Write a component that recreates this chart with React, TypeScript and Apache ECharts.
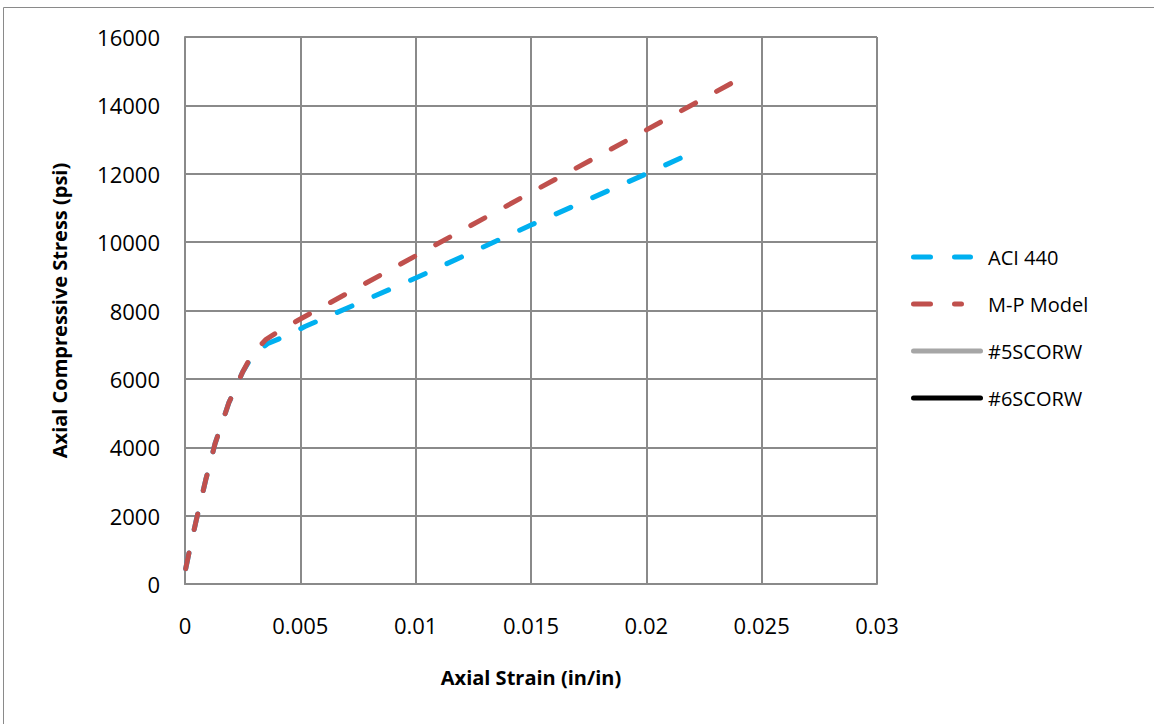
import React, { useEffect, useRef } from "react";
import * as echarts from "echarts";

const xTicks = { min: 0, max: 0.03, interval: 0.005 };
const yTicks = { min: 0, max: 16000, interval: 2000 };

const aciStrain = [0.00003, 0.0002, 0.0005, 0.0009, 0.0013, 0.0019, 0.0025, 0.0029, 0.0036, 0.0044, 0.0052, 0.01, 0.015, 0.02, 0.022];
const aciStress = [450, 1000, 1900, 3050, 4100, 5300, 6200, 6650, 7040, 7260, 7530, 8950, 10500, 12000, 12620];

const mpStrain = [0.00003, 0.0002, 0.0005, 0.0009, 0.0013, 0.0019, 0.0025, 0.0029, 0.0035, 0.0042, 0.005, 0.01, 0.015, 0.02, 0.0241];
const mpStress = [450, 1000, 1900, 3050, 4100, 5300, 6200, 6700, 7150, 7450, 7750, 9600, 11450, 13280, 14800];

const seriesNames = ["ACI 440", "M-P Model", "#5SCORW", "#6SCORW"];
const seriesColors = ["#00B0F0", "#C0504D", "#A6A6A6", "#000000"];

const FONT = "'Open Sans', 'DejaVu Sans', sans-serif";

const pill = (a: number, b: number) =>
  `M${a + 2.5},0 H${b - 2.5} A2.5,2.5 0 0 1 ${b - 2.5},5 H${a + 2.5} A2.5,2.5 0 0 1 ${a + 2.5},0 Z`;
const extend = " M0,0 L0,5 Z M72,0 L72,5 Z";
const legendIcons = [
  "path://" + pill(0, 22) + " " + pill(41, 62) + extend,
  "path://" + pill(0, 22) + " " + pill(41, 53) + extend,
  "path://" + pill(0, 72),
  "path://" + pill(0, 72),
];

export default function App() {
  const ref = useRef<HTMLDivElement>(null);
  useEffect(() => {
    if (!ref.current) return;
    const chart = echarts.init(ref.current, null, { renderer: "svg" });
    const zip = (xs: number[], ys: number[]) => xs.map((x, i) => [x, ys[i]]);
    const dashed = (color: string) => ({
      color,
      width: 5,
      type: [16, 24] as number[],
      cap: "round" as const,
    });
    chart.setOption({
      animation: false,
      backgroundColor: "#ffffff",
      textStyle: { fontFamily: FONT },
      graphic: [
        {
          type: "rect",
          shape: { x: 3.5, y: 7.5, width: 1200, height: 800 },
          style: { fill: "none", stroke: "#8a8a8a", lineWidth: 1 },
          silent: true,
        },
      ],
      grid: { left: 185, right: 277, top: 37, bottom: 140, containLabel: false },
      legend: {
        orient: "vertical",
        left: 906,
        top: 241,
        itemWidth: 72,
        itemHeight: 5,
        itemGap: 25,
        data: seriesNames.map((n, i) => ({ name: n, icon: legendIcons[i] })),
        textStyle: { fontFamily: FONT, fontSize: 20, color: "#000", lineHeight: 22 },
      },
      xAxis: {
        type: "value",
        min: xTicks.min,
        max: xTicks.max,
        interval: xTicks.interval,
        name: "Axial Strain (in/in)",
        nameLocation: "middle",
        nameGap: 83,
        nameTextStyle: { fontFamily: FONT, fontSize: 20, fontWeight: "bold", color: "#000" },
        axisLine: { show: true, lineStyle: { color: "#8a8a8a", width: 2 } },
        axisTick: { show: false },
        axisLabel: {
          margin: 30,
          fontSize: 22,
          color: "#000",
          fontFamily: FONT,
          formatter: (v: number) => String(parseFloat(v.toFixed(4))),
        },
        splitLine: { show: true, lineStyle: { color: "#8a8a8a", width: 2 } },
      },
      yAxis: {
        type: "value",
        min: yTicks.min,
        max: yTicks.max,
        interval: yTicks.interval,
        name: "Axial Compressive Stress (psi)",
        nameLocation: "middle",
        nameGap: 116,
        nameTextStyle: { fontFamily: FONT, fontSize: 20, fontWeight: "bold", color: "#000" },
        axisLine: { show: true, lineStyle: { color: "#8a8a8a", width: 2 } },
        axisTick: { show: false },
        axisLabel: {
          margin: 25,
          fontSize: 22,
          color: "#000",
          fontFamily: FONT,
          formatter: (v: number) => String(v),
        },
        splitLine: { show: true, lineStyle: { color: "#8a8a8a", width: 2 } },
      },
      series: [
        {
          name: seriesNames[0],
          type: "line",
          data: zip(aciStrain, aciStress),
          symbol: "none",
          color: seriesColors[0],
          lineStyle: dashed(seriesColors[0]),
          z: 2,
        },
        {
          name: seriesNames[1],
          type: "line",
          data: zip(mpStrain, mpStress),
          symbol: "none",
          color: seriesColors[1],
          lineStyle: dashed(seriesColors[1]),
          z: 3,
        },
        {
          name: seriesNames[2],
          type: "line",
          data: [],
          symbol: "none",
          color: seriesColors[2],
          lineStyle: { color: seriesColors[2], width: 5, cap: "round" },
        },
        {
          name: seriesNames[3],
          type: "line",
          data: [],
          symbol: "none",
          color: seriesColors[3],
          lineStyle: { color: seriesColors[3], width: 5, cap: "round" },
        },
      ],
    });
    return () => chart.dispose();
  }, []);
  return (
    <div
      ref={ref}
      style={{ position: "fixed", left: 0, top: 0, width: 1154, height: 724, background: "#fff" }}
    />
  );
}
